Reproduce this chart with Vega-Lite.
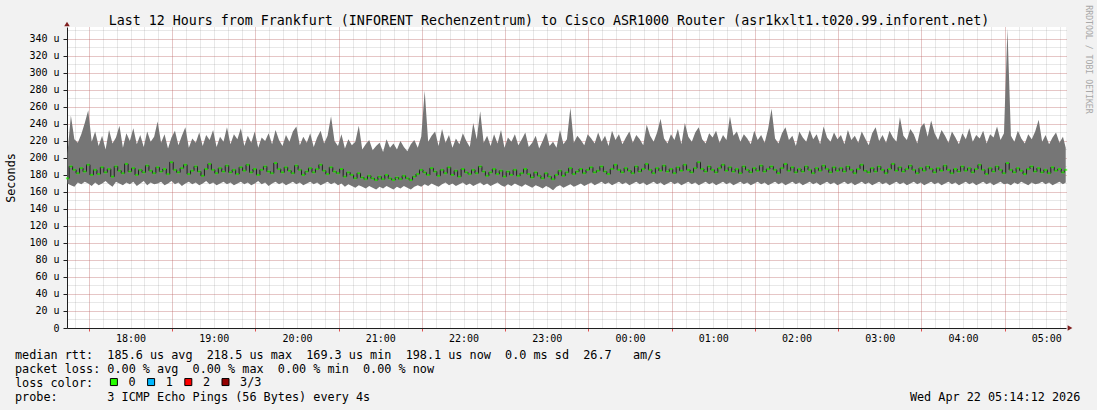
{
"$schema": "https://vega.github.io/schema/vega-lite/v6.json",
"width": 999, "height": 301,
"autosize": {"type": "none"},
"padding": {"left": 67, "top": 27, "right": 31, "bottom": 82},
"background": "#f2f2f2",
"config": {"view": {"fill": "white", "stroke": null}, "font": "DejaVu Sans Mono", "axis": {"labelFont": "DejaVu Sans Mono", "titleFont": "DejaVu Sans Mono"}},
"data": {"values": [
{"t":14.5,"l":170,"h":205,"m":176},{"t":17,"l":168,"h":250,"m":190},{"t":19.5,"l":166,"h":222,"m":186},{"t":22,"l":171,"h":218,"m":182},{"t":24.5,"l":169,"h":228,"m":188},{"t":27,"l":172,"h":241,"m":184},{"t":29.5,"l":170,"h":256,"m":192},{"t":32,"l":167,"h":219,"m":180},{"t":34.5,"l":171,"h":231,"m":186},{"t":37,"l":168,"h":214,"m":181},{"t":39.5,"l":170,"h":226,"m":189},{"t":42,"l":173,"h":210,"m":183},
{"t":44.5,"l":169,"h":233,"m":187},{"t":47,"l":166,"h":217,"m":178},{"t":49.5,"l":172,"h":224,"m":190},{"t":52,"l":170,"h":238,"m":185},{"t":54.5,"l":168,"h":212,"m":182},{"t":57,"l":171,"h":229,"m":193},{"t":59.5,"l":169,"h":220,"m":184},{"t":62,"l":172,"h":235,"m":188},{"t":64.5,"l":167,"h":216,"m":180},{"t":67,"l":170,"h":227,"m":186},{"t":69.5,"l":173,"h":213,"m":183},{"t":72,"l":168,"h":231,"m":191},
{"t":74.5,"l":171,"h":219,"m":185},{"t":77,"l":169,"h":225,"m":182},{"t":79.5,"l":170,"h":243,"m":189},{"t":82,"l":172,"h":218,"m":184},{"t":84.5,"l":168,"h":228,"m":187},{"t":87,"l":170,"h":211,"m":181},{"t":89.5,"l":173,"h":224,"m":195},{"t":92,"l":169,"h":232,"m":186},{"t":94.5,"l":171,"h":215,"m":183},{"t":97,"l":167,"h":226,"m":188},{"t":99.5,"l":170,"h":236,"m":192},{"t":102,"l":172,"h":212,"m":181},
{"t":104.5,"l":169,"h":223,"m":185},{"t":107,"l":171,"h":218,"m":190},{"t":109.5,"l":168,"h":230,"m":184},{"t":112,"l":170,"h":214,"m":179},{"t":114.5,"l":173,"h":227,"m":187},{"t":117,"l":169,"h":221,"m":193},{"t":119.5,"l":171,"h":233,"m":186},{"t":122,"l":168,"h":213,"m":182},{"t":124.5,"l":170,"h":225,"m":188},{"t":127,"l":172,"h":219,"m":184},{"t":129.5,"l":169,"h":236,"m":191},{"t":132,"l":171,"h":216,"m":183},
{"t":134.5,"l":168,"h":228,"m":186},{"t":137,"l":170,"h":222,"m":181},{"t":139.5,"l":172,"h":235,"m":189},{"t":142,"l":169,"h":214,"m":185},{"t":144.5,"l":171,"h":226,"m":192},{"t":147,"l":168,"h":218,"m":183},{"t":149.5,"l":170,"h":231,"m":187},{"t":152,"l":173,"h":212,"m":180},{"t":154.5,"l":169,"h":224,"m":186},{"t":157,"l":171,"h":220,"m":190},{"t":159.5,"l":167,"h":229,"m":184},{"t":162,"l":170,"h":216,"m":182},
{"t":164.5,"l":172,"h":233,"m":194},{"t":167,"l":169,"h":221,"m":187},{"t":169.5,"l":171,"h":214,"m":183},{"t":172,"l":168,"h":227,"m":189},{"t":174.5,"l":170,"h":219,"m":185},{"t":177,"l":172,"h":231,"m":182},{"t":179.5,"l":169,"h":237,"m":191},{"t":182,"l":171,"h":215,"m":186},{"t":184.5,"l":168,"h":225,"m":180},{"t":187,"l":170,"h":218,"m":184},{"t":189.5,"l":172,"h":229,"m":188},{"t":192,"l":169,"h":213,"m":183},
{"t":194.5,"l":171,"h":224,"m":187},{"t":197,"l":168,"h":232,"m":192},{"t":199.5,"l":170,"h":217,"m":185},{"t":202,"l":172,"h":226,"m":181},{"t":204.5,"l":169,"h":249,"m":189},{"t":207,"l":171,"h":220,"m":184},{"t":209.5,"l":168,"h":214,"m":182},{"t":212,"l":170,"h":228,"m":187},{"t":214.5,"l":166,"h":211,"m":178},{"t":217,"l":169,"h":222,"m":183},{"t":219.5,"l":167,"h":215,"m":180},{"t":222,"l":165,"h":219,"m":176},
{"t":224.5,"l":168,"h":238,"m":182},{"t":227,"l":166,"h":210,"m":177},{"t":229.5,"l":164,"h":216,"m":175},{"t":232,"l":167,"h":221,"m":179},{"t":234.5,"l":165,"h":209,"m":176},{"t":237,"l":163,"h":214,"m":174},{"t":239.5,"l":166,"h":218,"m":178},{"t":242,"l":164,"h":207,"m":175},{"t":244.5,"l":167,"h":222,"m":180},{"t":247,"l":165,"h":212,"m":176},{"t":249.5,"l":163,"h":217,"m":174},{"t":252,"l":166,"h":210,"m":177},
{"t":254.5,"l":164,"h":220,"m":175},{"t":257,"l":167,"h":213,"m":179},{"t":259.5,"l":165,"h":208,"m":176},{"t":262,"l":163,"h":216,"m":174},{"t":264.5,"l":166,"h":221,"m":178},{"t":267,"l":168,"h":212,"m":181},{"t":269.5,"l":166,"h":225,"m":186},{"t":272,"l":169,"h":279,"m":183},{"t":274.5,"l":167,"h":219,"m":180},{"t":277,"l":170,"h":226,"m":188},{"t":279.5,"l":168,"h":231,"m":184},{"t":282,"l":166,"h":214,"m":179},
{"t":284.5,"l":169,"h":234,"m":186},{"t":287,"l":171,"h":218,"m":182},{"t":289.5,"l":168,"h":227,"m":189},{"t":292,"l":170,"h":212,"m":180},{"t":294.5,"l":167,"h":223,"m":185},{"t":297,"l":169,"h":216,"m":178},{"t":299.5,"l":171,"h":229,"m":187},{"t":302,"l":168,"h":220,"m":183},{"t":304.5,"l":170,"h":213,"m":181},{"t":307,"l":167,"h":241,"m":186},{"t":309.5,"l":169,"h":222,"m":182},{"t":312,"l":171,"h":255,"m":190},
{"t":314.5,"l":168,"h":218,"m":184},{"t":317,"l":170,"h":226,"m":179},{"t":319.5,"l":167,"h":214,"m":183},{"t":322,"l":169,"h":228,"m":187},{"t":324.5,"l":171,"h":217,"m":181},{"t":327,"l":168,"h":233,"m":185},{"t":329.5,"l":166,"h":212,"m":178},{"t":332,"l":169,"h":224,"m":184},{"t":334.5,"l":167,"h":219,"m":180},{"t":337,"l":170,"h":228,"m":186},{"t":339.5,"l":168,"h":215,"m":179},{"t":342,"l":166,"h":222,"m":182},
{"t":344.5,"l":169,"h":230,"m":187},{"t":347,"l":167,"h":213,"m":181},{"t":349.5,"l":165,"h":218,"m":177},{"t":352,"l":168,"h":226,"m":183},{"t":354.5,"l":166,"h":211,"m":179},{"t":357,"l":164,"h":220,"m":176},{"t":359.5,"l":167,"h":230,"m":182},{"t":362,"l":165,"h":214,"m":178},{"t":364.5,"l":162,"h":219,"m":175},{"t":367,"l":166,"h":212,"m":180},{"t":369.5,"l":168,"h":233,"m":185},{"t":372,"l":165,"h":216,"m":179},
{"t":374.5,"l":167,"h":222,"m":183},{"t":377,"l":169,"h":259,"m":188},{"t":379.5,"l":166,"h":218,"m":181},{"t":382,"l":168,"h":226,"m":184},{"t":384.5,"l":170,"h":221,"m":187},{"t":387,"l":167,"h":215,"m":182},{"t":389.5,"l":169,"h":228,"m":186},{"t":392,"l":171,"h":223,"m":189},{"t":394.5,"l":168,"h":217,"m":183},{"t":397,"l":170,"h":230,"m":185},{"t":399.5,"l":172,"h":219,"m":190},{"t":402,"l":169,"h":226,"m":184},
{"t":404.5,"l":171,"h":214,"m":181},{"t":407,"l":168,"h":232,"m":187},{"t":409.5,"l":170,"h":221,"m":192},{"t":412,"l":172,"h":228,"m":186},{"t":414.5,"l":169,"h":216,"m":183},{"t":417,"l":171,"h":224,"m":188},{"t":419.5,"l":168,"h":231,"m":185},{"t":422,"l":170,"h":218,"m":182},{"t":424.5,"l":172,"h":227,"m":190},{"t":427,"l":169,"h":222,"m":184},{"t":429.5,"l":171,"h":215,"m":187},{"t":432,"l":168,"h":239,"m":193},
{"t":434.5,"l":170,"h":226,"m":186},{"t":437,"l":172,"h":219,"m":182},{"t":439.5,"l":169,"h":230,"m":188},{"t":442,"l":171,"h":246,"m":185},{"t":444.5,"l":168,"h":223,"m":191},{"t":447,"l":170,"h":217,"m":184},{"t":449.5,"l":172,"h":228,"m":187},{"t":452,"l":169,"h":221,"m":182},{"t":454.5,"l":171,"h":234,"m":189},{"t":457,"l":168,"h":216,"m":185},{"t":459.5,"l":170,"h":241,"m":192},{"t":462,"l":172,"h":225,"m":186},
{"t":464.5,"l":169,"h":219,"m":183},{"t":467,"l":171,"h":230,"m":188},{"t":469.5,"l":168,"h":236,"m":195},{"t":472,"l":170,"h":222,"m":187},{"t":474.5,"l":172,"h":217,"m":184},{"t":477,"l":169,"h":229,"m":190},{"t":479.5,"l":171,"h":224,"m":186},{"t":482,"l":168,"h":232,"m":183},{"t":484.5,"l":170,"h":218,"m":188},{"t":487,"l":172,"h":227,"m":192},{"t":489.5,"l":169,"h":221,"m":185},{"t":492,"l":171,"h":249,"m":189},
{"t":494.5,"l":168,"h":226,"m":184},{"t":497,"l":170,"h":231,"m":187},{"t":499.5,"l":172,"h":219,"m":182},{"t":502,"l":169,"h":228,"m":190},{"t":504.5,"l":171,"h":223,"m":186},{"t":507,"l":168,"h":216,"m":183},{"t":509.5,"l":170,"h":232,"m":188},{"t":512,"l":172,"h":221,"m":185},{"t":514.5,"l":169,"h":227,"m":191},{"t":517,"l":171,"h":218,"m":184},{"t":519.5,"l":168,"h":234,"m":187},{"t":522,"l":170,"h":258,"m":190},
{"t":524.5,"l":172,"h":223,"m":186},{"t":527,"l":169,"h":217,"m":182},{"t":529.5,"l":171,"h":229,"m":188},{"t":532,"l":168,"h":236,"m":193},{"t":534.5,"l":170,"h":221,"m":185},{"t":537,"l":172,"h":226,"m":189},{"t":539.5,"l":169,"h":214,"m":183},{"t":542,"l":171,"h":231,"m":187},{"t":544.5,"l":168,"h":224,"m":184},{"t":547,"l":170,"h":219,"m":190},{"t":549.5,"l":172,"h":233,"m":186},{"t":552,"l":169,"h":222,"m":182},
{"t":554.5,"l":171,"h":228,"m":188},{"t":557,"l":168,"h":216,"m":185},{"t":559.5,"l":170,"h":237,"m":191},{"t":562,"l":172,"h":224,"m":187},{"t":564.5,"l":169,"h":219,"m":183},{"t":567,"l":171,"h":230,"m":189},{"t":569.5,"l":168,"h":222,"m":185},{"t":572,"l":170,"h":227,"m":188},{"t":574.5,"l":172,"h":216,"m":184},{"t":577,"l":169,"h":233,"m":190},{"t":579.5,"l":171,"h":221,"m":186},{"t":582,"l":168,"h":226,"m":182},
{"t":584.5,"l":170,"h":218,"m":187},{"t":587,"l":172,"h":231,"m":192},{"t":589.5,"l":169,"h":223,"m":185},{"t":592,"l":171,"h":215,"m":183},{"t":594.5,"l":168,"h":229,"m":188},{"t":597,"l":170,"h":236,"m":184},{"t":599.5,"l":172,"h":220,"m":190},{"t":602,"l":169,"h":227,"m":186},{"t":604.5,"l":171,"h":218,"m":182},{"t":607,"l":168,"h":232,"m":187},{"t":609.5,"l":170,"h":224,"m":193},{"t":612,"l":172,"h":219,"m":185},
{"t":614.5,"l":169,"h":248,"m":189},{"t":617,"l":171,"h":226,"m":184},{"t":619.5,"l":168,"h":221,"m":187},{"t":622,"l":170,"h":234,"m":191},{"t":624.5,"l":172,"h":228,"m":186},{"t":627,"l":169,"h":217,"m":182},{"t":629.5,"l":171,"h":236,"m":188},{"t":632,"l":168,"h":241,"m":185},{"t":634.5,"l":170,"h":225,"m":190},{"t":637,"l":172,"h":244,"m":187},{"t":639.5,"l":169,"h":229,"m":183},{"t":642,"l":171,"h":221,"m":188},
{"t":644.5,"l":168,"h":233,"m":185},{"t":647,"l":170,"h":226,"m":191},{"t":649.5,"l":172,"h":218,"m":186},{"t":652,"l":169,"h":231,"m":182},{"t":654.5,"l":171,"h":224,"m":187},{"t":657,"l":168,"h":216,"m":184},{"t":659.5,"l":170,"h":229,"m":190},{"t":662,"l":172,"h":222,"m":185},{"t":664.5,"l":169,"h":235,"m":188},{"t":667,"l":171,"h":219,"m":183},{"t":669.5,"l":168,"h":227,"m":187},{"t":672,"l":170,"h":223,"m":192},
{"t":674.5,"l":172,"h":232,"m":186},{"t":677,"l":169,"h":217,"m":181},{"t":679.5,"l":171,"h":228,"m":188},{"t":682,"l":168,"h":224,"m":184},{"t":684.5,"l":170,"h":237,"m":190},{"t":687,"l":172,"h":221,"m":186},{"t":689.5,"l":169,"h":229,"m":182},{"t":692,"l":170,"h":352,"m":194},{"t":694.5,"l":168,"h":226,"m":186},{"t":697,"l":171,"h":219,"m":183},{"t":699.5,"l":169,"h":232,"m":188},{"t":702,"l":172,"h":223,"m":185},
{"t":704.5,"l":170,"h":217,"m":181},{"t":707,"l":168,"h":228,"m":187},{"t":709.5,"l":171,"h":222,"m":190},{"t":712,"l":169,"h":231,"m":184},{"t":714.5,"l":170,"h":245,"m":188},{"t":717,"l":172,"h":219,"m":183},{"t":719.5,"l":169,"h":227,"m":186},{"t":722,"l":171,"h":216,"m":182},{"t":724.5,"l":168,"h":224,"m":189},{"t":727,"l":170,"h":230,"m":185},{"t":729.5,"l":172,"h":218,"m":187},{"t":732,"l":169,"h":225,"m":183},{"t":734,"l":171,"h":212,"m":186}
]},
"resolve": {"axis": {"x": "independent", "y": "independent"}},
"layer": [
{"mark": {"type": "area", "color": "#767676", "interpolate": "linear"},
 "encoding": {
  "x": {"field": "t", "type": "quantitative", "scale": {"domain": [14.2, 734.2], "nice": false, "zero": false},
   "axis": {"orient": "bottom", "values": [20,30,40,50,60,70,80,90,100,110,120,130,140,150,160,170,180,190,200,210,220,230,240,250,260,270,280,290,300,310,320,330,340,350,360,370,380,390,400,410,420,430,440,450,460,470,480,490,500,510,520,530,540,550,560,570,580,590,600,610,620,630,640,650,660,670,680,690,700,710,720,730], "grid": true, "gridColor": "#8f8f8f", "gridOpacity": 0.4, "gridDash": [1, 1], "labels": false, "ticks": false, "domain": false, "title": null}},
  "y": {"field": "l", "type": "quantitative", "scale": {"domain": [0, 354], "nice": false, "zero": false},
   "axis": {"orient": "left", "values": [10,20,30,40,50,60,70,80,90,100,110,120,130,140,150,160,170,180,190,200,210,220,230,240,250,260,270,280,290,300,310,320,330,340,350], "grid": true, "gridColor": "#8f8f8f", "gridOpacity": 0.4, "gridDash": [1, 1], "labels": false, "ticks": false, "domain": false, "title": null}},
  "y2": {"field": "h"}
 }},
{"mark": {"type": "line", "color": "#202020", "strokeWidth": 1, "interpolate": "step"},
 "encoding": {
  "x": {"field": "t", "type": "quantitative",
   "axis": {"orient": "bottom", "values": [30,90,150,210,270,330,390,450,510,570,630,690], "grid": true, "gridColor": "#de4f4f", "gridOpacity": 0.45, "gridDash": [1, 1], "labels": false, "ticks": true, "tickColor": "#de4f4f", "tickSize": 3, "domain": false, "title": null}},
  "y": {"field": "m", "type": "quantitative",
   "axis": {"orient": "left", "values": [20,40,60,80,100,120,140,160,180,200,220,240,260,280,300,320,340], "grid": true, "gridColor": "#de4f4f", "gridOpacity": 0.45, "gridDash": [1, 1], "labels": false, "ticks": false, "domain": false, "title": null}}
 }},
{"mark": {"type": "tick", "orient": "horizontal", "thickness": 2, "size": 3},
 "encoding": {
  "x": {"field": "t", "type": "quantitative",
   "axis": {"orient": "bottom", "values": [60,120,180,240,300,360,420,480,540,600,660,720], "labelExpr": "timeFormat(datetime(2026,3,21,17,datum.value),'%H:%M')", "labelFont": "DejaVu Sans Mono", "labelFontSize": 10, "labelColor": "black", "labelPadding": 5.5, "ticks": false, "domain": true, "domainColor": "#1f1f1f", "grid": false,
    "title": ["median rtt:\u00a0\u00a0185.6 us avg\u00a0\u00a0218.5 us max\u00a0\u00a0169.3 us min\u00a0\u00a0198.1 us now\u00a0\u00a00.0 ms sd\u00a0\u00a026.7\u00a0\u00a0\u00a0am/s", "packet loss: 0.00 % avg\u00a0\u00a00.00 % max\u00a0\u00a00.00 % min\u00a0\u00a00.00 % now", "loss color:", "probe:\u00a0\u00a0\u00a0\u00a0\u00a0\u00a0\u00a03 ICMP Echo Pings (56 Bytes) every 4s\u00a0\u00a0\u00a0\u00a0\u00a0\u00a0\u00a0\u00a0\u00a0\u00a0\u00a0\u00a0\u00a0\u00a0\u00a0\u00a0\u00a0\u00a0\u00a0\u00a0\u00a0\u00a0\u00a0\u00a0\u00a0\u00a0\u00a0\u00a0\u00a0\u00a0\u00a0\u00a0\u00a0\u00a0\u00a0\u00a0\u00a0\u00a0\u00a0\u00a0\u00a0\u00a0\u00a0\u00a0\u00a0\u00a0\u00a0\u00a0\u00a0\u00a0\u00a0\u00a0\u00a0\u00a0\u00a0\u00a0\u00a0\u00a0\u00a0\u00a0\u00a0\u00a0\u00a0\u00a0\u00a0\u00a0\u00a0\u00a0\u00a0\u00a0\u00a0\u00a0\u00a0\u00a0\u00a0\u00a0Wed Apr 22 05:14:12 2026"],
    "titleX": -52.5, "titleY": 30, "titleAlign": "left", "titleBaseline": "alphabetic", "titleFont": "DejaVu Sans Mono", "titleFontSize": 11.8, "titleFontWeight": "normal", "titleColor": "black", "titleLineHeight": 14}},
  "y": {"field": "m", "type": "quantitative",
   "axis": {"orient": "left", "values": [0,20,40,60,80,100,120,140,160,180,200,220,240,260,280,300,320,340], "labelExpr": "datum.value == 0 ? '0\u00a0\u00a0' : datum.value + '\u00a0u'", "labelFont": "DejaVu Sans Mono", "labelFontSize": 10, "labelColor": "black", "labelPadding": 4, "ticks": true, "tickSize": 4, "tickColor": "#1f1f1f", "domain": true, "domainColor": "#1f1f1f", "grid": false,
    "title": "Seconds", "titleX": -57, "titleY": 150.5, "titleAngle": 270, "titleAlign": "center", "titleBaseline": "middle", "titleFont": "DejaVu Sans Mono", "titleFontSize": 11.8, "titleFontWeight": "normal", "titleColor": "black"}},
  "color": {"datum": "0", "type": "nominal", "scale": {"domain": ["0", "1", "2", "3/3"], "range": ["#26ff00", "#00b8ff", "#ff0000", "#930000"]},
   "legend": {"orient": "none", "legendX": 41, "legendY": 349, "direction": "horizontal", "title": null, "labelFont": "DejaVu Sans Mono", "labelFontSize": 11.8, "labelColor": "black", "labelOffset": 8.7, "symbolType": "square", "symbolSize": 49, "symbolOpacity": 1, "columnPadding": 9.2, "padding": 0,
    "encode": {"symbols": {"update": {"stroke": {"value": "black"}, "strokeWidth": {"value": 1}}}}}}
 }},
{"data": {"values": [{}]},
 "mark": {"type": "point", "shape": "triangle-up", "filled": true, "size": 30, "color": "#801f1f", "opacity": 1, "yOffset": -3},
 "encoding": {
  "x": {"datum": 14.2, "type": "quantitative",
   "axis": {"orient": "top", "labels": false, "ticks": false, "domain": false, "grid": false, "title": "Last 12 Hours from Frankfurt (INFORENT Rechenzentrum) to Cisco ASR1000 Router (asr1kxlt1.t020.99.inforent.net)", "titleX": 481.5, "titleY": -2.7, "titleAlign": "center", "titleBaseline": "alphabetic", "titleFont": "DejaVu Sans Mono", "titleFontSize": 13.3, "titleFontWeight": "normal", "titleColor": "black"}},
  "y": {"datum": 354, "type": "quantitative",
   "axis": {"orient": "right", "labels": false, "ticks": false, "domain": false, "grid": false, "title": "RRDTOOL / TOBI OETIKER", "titleAngle": 90, "titleX": 21, "titleY": 32, "titleAlign": "center", "titleBaseline": "middle", "titleFont": "DejaVu Sans Mono", "titleFontSize": 8.2, "titleFontWeight": "normal", "titleColor": "#a8a8a8"}}
 }},
{"data": {"values": [{}]},
 "mark": {"type": "point", "shape": "triangle-right", "filled": true, "size": 30, "color": "#801f1f", "opacity": 1, "xOffset": 4},
 "encoding": {
  "x": {"datum": 734.2, "type": "quantitative", "axis": null},
  "y": {"datum": 0, "type": "quantitative", "axis": null}
 }}
]
}
